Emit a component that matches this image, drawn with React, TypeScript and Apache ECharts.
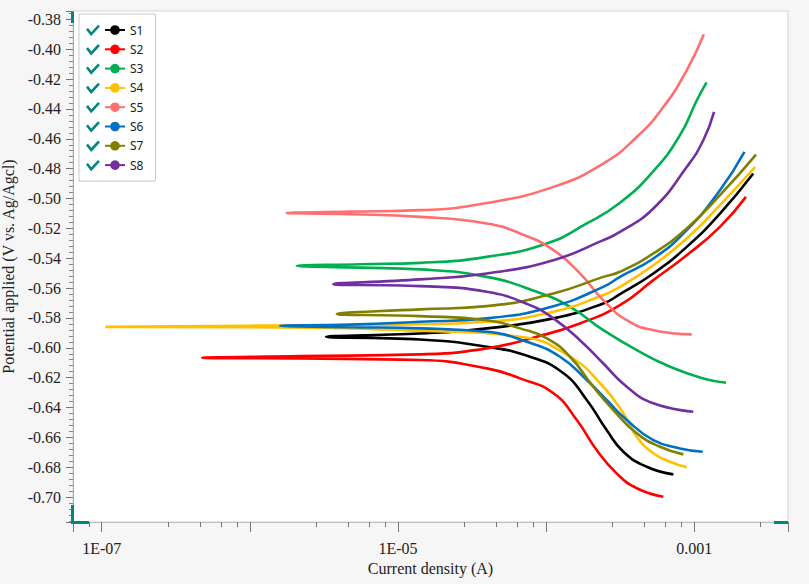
import React, { useEffect, useRef } from "react";
import * as echarts from "echarts";

const seriesNames = ["S1", "S2", "S3", "S4", "S5", "S6", "S7", "S8"];
const seriesColors = ["#000000", "#ff0000", "#00b050", "#ffc000", "#ff6f6f", "#0070c0", "#808000", "#7030a0"];

// [current density (A), potential (V)] ordered along the sweep: cathodic end -> Ecorr -> anodic end
const s1Data = [
  [7.22e-4, -0.6848], [4.77e-4, -0.6797], [3.32e-4, -0.6696], [2.56e-4, -0.6551], [1.88e-4, -0.635],
  [1.31e-4, -0.6171], [7.78e-5, -0.606], [3.97e-5, -0.5993], [1.41e-5, -0.5944], [3.27e-6, -0.5926],
  [1.41e-5, -0.5904], [3.97e-5, -0.587], [1.12e-4, -0.5803], [2.43e-4, -0.5703], [3.15e-4, -0.5641],
  [5.29e-4, -0.5502], [8.89e-4, -0.5324], [1.49e-3, -0.5101], [2.5e-3, -0.4833],
];
const s2Data = [
  [6.18e-4, -0.6998], [4.09e-4, -0.6941], [2.99e-4, -0.6841], [2.19e-4, -0.6685], [1.61e-4, -0.6484],
  [1.12e-4, -0.6305], [6.66e-5, -0.6205], [3.97e-5, -0.6138], [1.41e-5, -0.6082], [2.18e-6, -0.6072],
  [4.77e-7, -0.6067], [2.18e-6, -0.6056], [1.41e-5, -0.6044], [3.97e-5, -0.6004], [8.64e-5, -0.5926],
  [1.69e-4, -0.5837], [3.15e-4, -0.5714], [5.29e-4, -0.5547], [8.89e-4, -0.538], [1.49e-3, -0.519],
  [2.23e-3, -0.4989],
];
const s3Data = [
  [1.64e-3, -0.6234], [1.15e-3, -0.6205], [6.86e-4, -0.6127], [4.09e-4, -0.6016], [2.43e-4, -0.5882],
  [1.45e-4, -0.5726], [8.64e-5, -0.5625], [3.97e-5, -0.5525], [1.41e-5, -0.5475], [5.54e-6, -0.5463],
  [2.07e-6, -0.5451], [5.54e-6, -0.544], [1.41e-5, -0.5431], [3.97e-5, -0.5391], [1.01e-4, -0.5301],
  [1.88e-4, -0.5167], [3.15e-4, -0.5028], [5.29e-4, -0.4817], [8.0e-4, -0.4576], [1.04e-3, -0.4342],
  [1.21e-3, -0.4222],
];
const s4Data = [
  [8.89e-4, -0.6801], [6.86e-4, -0.6763], [5.29e-4, -0.6707], [4.09e-4, -0.6596], [3.32e-4, -0.6439],
  [2.43e-4, -0.6261], [1.45e-4, -0.606], [6.66e-5, -0.5926], [1.41e-5, -0.5886], [1.0e-6, -0.5862],
  [1.06e-7, -0.586], [1.0e-6, -0.5852], [1.41e-5, -0.5842], [3.97e-5, -0.5826], [1.12e-4, -0.5759],
  [2.43e-4, -0.5647], [3.15e-4, -0.5592], [5.29e-4, -0.5447], [8.89e-4, -0.5268], [1.49e-3, -0.5045],
  [2.57e-3, -0.4789],
];
const s5Data = [
  [9.6e-4, -0.591], [5.29e-4, -0.5882], [3.5e-4, -0.5815], [2.43e-4, -0.5681], [1.69e-4, -0.5502],
  [1.12e-4, -0.5346], [6.66e-5, -0.5234], [3.97e-5, -0.5167], [1.41e-5, -0.5123], [4.74e-6, -0.5105],
  [1.77e-6, -0.5097], [4.74e-6, -0.5088], [1.41e-5, -0.5078], [3.97e-5, -0.503], [1.12e-4, -0.4922],
  [2.43e-4, -0.4766], [4.09e-4, -0.4588], [6.18e-4, -0.4387], [8.89e-4, -0.4141], [1.16e-3, -0.39],
];
const s6Data = [
  [1.14e-3, -0.6696], [8.0e-4, -0.6674], [5.29e-4, -0.6618], [3.5e-4, -0.6484], [2.56e-4, -0.635],
  [1.88e-4, -0.6216], [1.24e-4, -0.606], [7.39e-5, -0.596], [3.97e-5, -0.5893], [1.41e-5, -0.587],
  [4.74e-6, -0.5862], [1.6e-6, -0.5853], [4.74e-6, -0.5845], [1.41e-5, -0.5826], [3.97e-5, -0.5803],
  [1.12e-4, -0.5721], [2.43e-4, -0.5592], [3.15e-4, -0.5525], [5.29e-4, -0.5402], [8.89e-4, -0.5212],
  [1.49e-3, -0.4945], [2.18e-3, -0.4688],
];
const s7Data = [
  [8.43e-4, -0.6714], [5.86e-4, -0.6663], [4.09e-4, -0.6573], [2.84e-4, -0.6417], [2.08e-4, -0.6261],
  [1.45e-4, -0.606], [1.01e-4, -0.5937], [6.66e-5, -0.587], [3.97e-5, -0.5815], [1.41e-5, -0.5788],
  [3.86e-6, -0.5773], [1.41e-5, -0.5743], [3.97e-5, -0.5721], [1.12e-4, -0.5636], [2.43e-4, -0.5525],
  [3.15e-4, -0.5491], [5.29e-4, -0.5368], [8.89e-4, -0.5201], [1.49e-3, -0.4978], [2.61e-3, -0.4706],
];
const s8Data = [
  [9.84e-4, -0.6428], [5.29e-4, -0.6372], [3.5e-4, -0.6261], [2.43e-4, -0.6105], [1.69e-4, -0.5949],
  [1.12e-4, -0.5803], [7.78e-5, -0.5714], [3.97e-5, -0.5625], [1.41e-5, -0.5587], [3.66e-6, -0.5574],
  [1.41e-5, -0.5542], [3.97e-5, -0.5502], [1.12e-4, -0.5413], [2.43e-4, -0.5279], [3.15e-4, -0.5224],
  [5.29e-4, -0.5067], [8.89e-4, -0.4789], [1.15e-3, -0.461], [1.36e-3, -0.442],
];
const allSeriesData = [s1Data, s2Data, s3Data, s4Data, s5Data, s6Data, s7Data, s8Data];

// x-axis decade labels shown (others left blank)
const xTickExponents = [-7, -5, -3];
const xTickLabels = ["1E-07", "1E-05", "0.001"];

const xMin = 6.4e-8;
const xMax = 4.29e-3;
const yMin = -0.7167;
const yMax = -0.3744;
const yStep = 0.02;

const TEAL = "#00877f";
const SERIF = "'Liberation Serif', 'Times New Roman', serif";

export default function App() {
  const ref = useRef<HTMLDivElement>(null);

  useEffect(() => {
    document.body.style.margin = "0";
    const chart = echarts.init(ref.current!, null, { renderer: "svg" });

    const legendTop = 14;
    const rowH = 19.3;
    const checks = seriesNames.map((_, i) => {
      const cy = legendTop + 16.7 + i * rowH;
      return {
        type: "polyline",
        z: 200,
        shape: { points: [[87, cy - 2], [91.2, cy + 3.4], [99, cy - 5]] },
        style: { stroke: TEAL, lineWidth: 2.6, fill: null },
      };
    });

    const option: any = {
      animation: false,
      backgroundColor: "#f6f6f6",
      grid: {
        left: 73,
        right: 21,
        top: 11,
        bottom: 62,
        show: true,
        backgroundColor: "#ffffff",
        borderColor: "#d4d4d4",
        borderWidth: 1,
        containLabel: false,
        outerBoundsMode: "none",
      },
      legend: {
        orient: "vertical",
        left: 79,
        top: legendTop,
        itemWidth: 20,
        itemHeight: 12,
        itemGap: 7.3,
        padding: [10, 12, 10, 25],
        backgroundColor: "#ffffff",
        borderColor: "#c9c9c9",
        borderWidth: 1,
        data: seriesNames,
        textStyle: { fontFamily: "'Noto Sans', sans-serif", fontSize: 12, color: "#222" },
      },
      xAxis: {
        type: "log",
        logBase: 10,
        min: xMin,
        max: xMax,
        name: "Current density (A)",
        nameLocation: "middle",
        nameGap: 38,
        nameTextStyle: { fontFamily: SERIF, fontSize: 16, color: "#222" },
        axisLine: { show: true, onZero: false, lineStyle: { color: "#bdbdbd", width: 1 } },
        axisTick: { show: true, length: 10, lineStyle: { color: "#777" } },
        minorTick: { show: true, splitNumber: 5, length: 5, lineStyle: { color: "#777" } },
        splitLine: { show: false },
        minorSplitLine: { show: false },
        axisLabel: {
          margin: 18,
          fontFamily: SERIF,
          fontSize: 16,
          color: "#222",
          showMinLabel: false,
          showMaxLabel: false,
          formatter: (v: number) => {
            const lg = Math.log10(v);
            const e = Math.round(lg);
            if (Math.abs(lg - e) > 1e-6) return "";
            const idx = xTickExponents.indexOf(e);
            return idx >= 0 ? xTickLabels[idx] : "";
          },
        },
      },
      yAxis: {
        type: "value",
        min: yMin,
        max: yMax,
        splitNumber: 17,
        minInterval: yStep,
        maxInterval: yStep,
        name: "Potential applied (V vs. Ag/Agcl)",
        nameLocation: "middle",
        nameGap: 54,
        nameTextStyle: { fontFamily: SERIF, fontSize: 16, color: "#222" },
        axisLine: { show: true, onZero: false, lineStyle: { color: "#a8a8a8", width: 1 } },
        axisTick: { show: true, length: 7, lineStyle: { color: "#777" } },
        minorTick: { show: true, splitNumber: 5, length: 4, lineStyle: { color: "#888" } },
        splitLine: { show: false },
        axisLabel: {
          margin: 12,
          fontFamily: SERIF,
          fontSize: 16,
          color: "#222",
          showMinLabel: false,
          showMaxLabel: false,
          formatter: (v: number) => v.toFixed(2),
        },
      },
      series: seriesNames.map((name, i) => ({
        name,
        type: "line",
        data: allSeriesData[i],
        symbol: "circle",
        symbolSize: 8,
        showSymbol: false,
        smooth: 0.5,
        color: seriesColors[i],
        lineStyle: { width: 2.6, color: seriesColors[i] },
        itemStyle: { color: seriesColors[i] },
        emphasis: { disabled: true },
      })),
      graphic: [
        ...checks,
        { type: "rect", z: 200, shape: { x: 71, y: 12, width: 3, height: 11 }, style: { fill: TEAL } },
        { type: "rect", z: 200, shape: { x: 71, y: 505, width: 3, height: 18 }, style: { fill: TEAL } },
        { type: "rect", z: 200, shape: { x: 71, y: 521, width: 18, height: 3 }, style: { fill: TEAL } },
        { type: "rect", z: 200, shape: { x: 774, y: 521, width: 14, height: 3 }, style: { fill: TEAL } },
      ],
    };

    chart.setOption(option);
    return () => chart.dispose();
  }, []);

  return <div ref={ref} style={{ width: 809, height: 584 }} />;
}
